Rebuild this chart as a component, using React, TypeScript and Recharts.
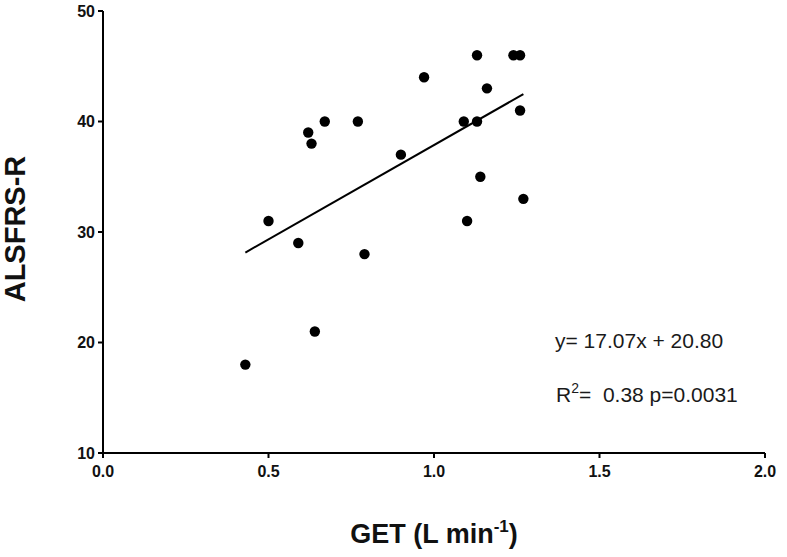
import React from 'react';
import { ScatterChart, Scatter, XAxis, YAxis, Customized, Label } from 'recharts';

const getValues = [0.43, 0.64, 0.50, 0.59, 0.79, 0.62, 0.63, 0.67, 0.77, 0.90, 0.97, 1.13, 1.24, 1.26, 1.16, 1.26, 1.09, 1.13, 1.14, 1.27, 1.10];
const alsfrsValues = [18, 21, 31, 29, 28, 39, 38, 40, 40, 37, 44, 46, 46, 46, 43, 41, 40, 40, 35, 33, 31];
const xTicks = [0, 0.5, 1.0, 1.5, 2.0];
const yTicks = [10, 20, 30, 40, 50];
const slope = 17.07;
const intercept = 20.8;
const equationText = 'y= 17.07x + 20.80';
const r2Value = '0.38';
const pText = 'p=0.0031';

const points = getValues.map((x, i) => ({ x, y: alsfrsValues[i] }));
const xMin = Math.min(...getValues);
const xMax = Math.max(...getValues);
const fitLine = [
  { x: xMin, y: slope * xMin + intercept },
  { x: xMax, y: slope * xMax + intercept },
];

const FONT = '"Liberation Sans", Arial, Helvetica, sans-serif';

const Dot = (props: any) => <circle cx={props.cx} cy={props.cy} r={5.2} fill="#000" />;
const NoDot = () => <g />;

const Annotations = () => (
  <g fontFamily={FONT} fill="#1a1a1a" fontSize={21}>
    <text x={555} y={348}>{equationText}</text>
    <text x={556} y={402} style={{ whiteSpace: 'pre' }}>
      <tspan>R</tspan>
      <tspan fontSize={14} dy={-9}>2</tspan>
      <tspan dy={9}>{'=  ' + r2Value + ' ' + pText}</tspan>
    </text>
  </g>
);

const XLabel = (props: any) => {
  const vb = props.viewBox;
  const cx = vb.x + vb.width / 2;
  return (
    <text x={cx} y={vb.y + 90} textAnchor="middle" fontFamily={FONT} fontWeight="bold" fontSize={27} fill="#111">
      <tspan>GET (L min</tspan>
      <tspan fontSize={17} dy={-11}>-1</tspan>
      <tspan dy={11}>)</tspan>
    </text>
  );
};

const YLabel = (props: any) => {
  const vb = props.viewBox;
  const cy = vb.y + vb.height / 2 - 3;
  const x = 25;
  return (
    <text x={x} y={cy} transform={`rotate(-90, ${x}, ${cy})`} textAnchor="middle" fontFamily={FONT} fontWeight="bold" fontSize={29} fill="#111">
      ALSFRS-R
    </text>
  );
};

export default function App() {
  return (
    <div style={{ position: 'absolute', left: 0, top: 0, width: 787, height: 557, background: '#fff' }}>
      <ScatterChart width={787} height={557} margin={{ top: 11, right: 22, left: 0, bottom: 0 }}>
        <XAxis
          type="number"
          dataKey="x"
          domain={[0, 2]}
          ticks={xTicks}
          tickFormatter={(v: number) => v.toFixed(1)}
          height={104}
          stroke="#000"
          strokeWidth={2}
          tickSize={5}
          tickMargin={8}
          tick={{ fill: '#111', fontSize: 16, fontWeight: 'bold', fontFamily: FONT }}
          allowDataOverflow
        >
          <Label content={<XLabel />} />
        </XAxis>
        <YAxis
          type="number"
          dataKey="y"
          domain={[10, 50]}
          ticks={yTicks}
          width={103}
          stroke="#000"
          strokeWidth={2}
          tickSize={5}
          tickMargin={3}
          tick={{ fill: '#111', fontSize: 16, fontWeight: 'bold', fontFamily: FONT }}
          allowDataOverflow
        >
          <Label content={<YLabel />} />
        </YAxis>
        <Scatter data={fitLine} line={{ stroke: '#000', strokeWidth: 2 }} shape={<NoDot />} isAnimationActive={false} />
        <Scatter data={points} shape={<Dot />} isAnimationActive={false} />
        <Customized component={<Annotations />} />
      </ScatterChart>
    </div>
  );
}
